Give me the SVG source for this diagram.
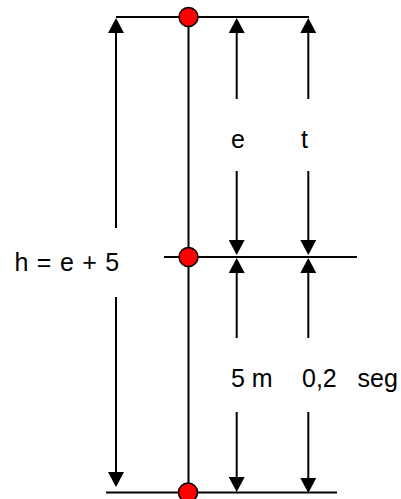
<svg xmlns="http://www.w3.org/2000/svg" width="401" height="499" viewBox="0 0 401 499">
<style>
.ln{stroke:#000;stroke-width:2;fill:none}
.dim{stroke:#000;stroke-width:2;fill:none;marker-end:url(#ah)}
.pt{fill:#ff0000;stroke:#000;stroke-width:1.5}
.lbl{font-family:"Liberation Sans",Arial,sans-serif;font-size:25px;fill:#000;white-space:pre}
</style>
<defs>
<marker id="ah" markerUnits="userSpaceOnUse" markerWidth="16" markerHeight="16" viewBox="0 0 15 16" refX="2" refY="8" orient="auto">
<path d="M0,0 L15,8 L0,16 z" fill="#000"/>
</marker>
</defs>
<rect width="401" height="499" fill="#fff"/>
<g id="levels">
<line class="ln" x1="116" y1="17" x2="309" y2="17"/>
<line class="ln" x1="164" y1="257" x2="357" y2="257"/>
<line class="ln" x1="106" y1="492.5" x2="337" y2="492.5"/>
<line class="ln" x1="188.5" y1="17" x2="188.5" y2="492.5"/>
</g>
<g id="connectors">
<line class="dim" x1="116" y1="228" x2="116" y2="31"/>
<line class="dim" x1="116" y1="297" x2="116" y2="474"/>
<line class="dim" x1="236.7" y1="99" x2="236.7" y2="31"/>
<line class="dim" x1="236.7" y1="171" x2="236.7" y2="242"/>
<line class="dim" x1="308.3" y1="99" x2="308.3" y2="31"/>
<line class="dim" x1="308.3" y1="171" x2="308.3" y2="242"/>
<line class="dim" x1="236.7" y1="338" x2="236.7" y2="271"/>
<line class="dim" x1="236.7" y1="412" x2="236.7" y2="479"/>
<line class="dim" x1="308.3" y1="338" x2="308.3" y2="271"/>
<line class="dim" x1="308.3" y1="412" x2="308.3" y2="480"/>
</g>
<g id="point-top"><circle class="pt" cx="188.5" cy="17" r="9.5"/></g>
<g id="point-mid"><circle class="pt" cx="188.5" cy="257" r="9.5"/></g>
<g id="point-bottom"><circle class="pt" cx="188" cy="492.5" r="9.5"/></g>
<g id="labels">
<text class="lbl" x="14.5" y="271" word-spacing="1.5">h = e + 5</text>
<text class="lbl" x="231" y="148">e</text>
<text class="lbl" x="301" y="148">t</text>
<text class="lbl" x="231" y="386.5">5 m</text>
<text class="lbl" x="302" y="386.5">0,2   seg</text>
</g>
</svg>
